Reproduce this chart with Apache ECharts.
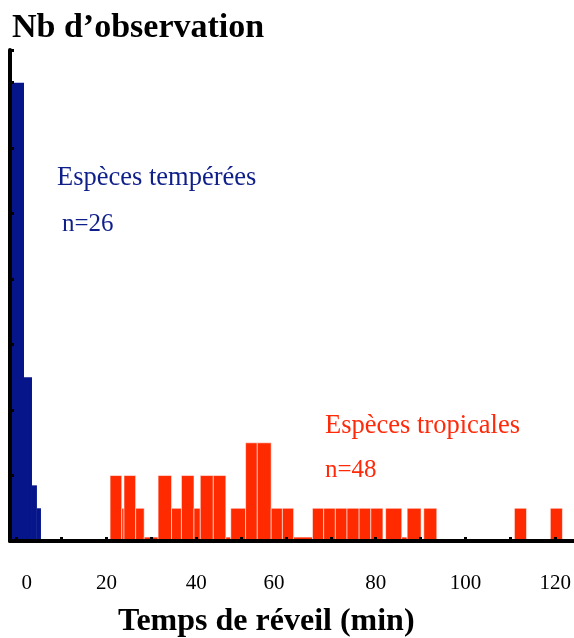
<!DOCTYPE html>
<html>
<head>
<meta charset="utf-8">
<script src="https://cdn.jsdelivr.net/npm/echarts@6/dist/echarts.min.js"></script>
<style>html,body{margin:0;padding:0;background:#fff}#c{width:574px;height:638px}</style>
</head>
<body>
<div id="c"></div>
<script>
// Temperate species (blue) bins: start (min), end (min), count
const blueStart = [-1.5, 1.62, 3.4, 4.5];
const blueEnd   = [1.62, 3.4, 4.5, 5.4];
const blueCount = [14, 5, 1.7, 1];

// Tropical species (red) bins: start (min), end (min), count
const redStart = [20.8, 23.4, 23.9, 26.5, 28.4, 31.5, 34.5, 36.7, 39.5, 40.9, 43.8, 46.6, 47.7, 51.0, 53.6, 56.7, 59.2, 61.7, 65.9, 68.4, 71.0, 73.6, 76.3, 78.9, 82.2, 85.8, 87.0, 90.7, 110.9, 118.9];
const redEnd   = [23.4, 23.9, 26.5, 28.4, 31.5, 34.5, 36.7, 39.5, 40.9, 43.8, 46.6, 47.7, 51.0, 53.6, 56.7, 59.2, 61.7, 65.9, 68.4, 71.0, 73.6, 76.3, 78.9, 81.6, 85.8, 87.0, 90.1, 93.6, 113.6, 121.6];
const redCount = [2, 1, 2, 1, 0.12, 2, 1, 2, 1, 2, 2, 0.12, 1, 3, 3, 1, 1, 0.12, 1, 1, 1, 1, 1, 1, 1, 0.12, 1, 1, 1, 1];

const xTickValues  = [0, 10, 20, 30, 40, 50, 60, 70, 80, 90, 100, 110, 120];
const xLabelValues = [0, 20, 40, 60, 80, 100, 120];

const blueData = blueStart.map((s, i) => [s, blueEnd[i], blueCount[i]]);
const redData  = redStart.map((s, i) => [s, redEnd[i], redCount[i]]);

function rectItem(stroke) {
  return function (params, api) {
    const p0 = api.coord([api.value(0), api.value(2)]);
    const p1 = api.coord([api.value(1), 0]);
    return {
      type: 'rect',
      shape: { x: p0[0], y: p0[1], width: p1[0] - p0[0], height: p1[1] - p0[1] },
      style: { fill: api.visual('color'), stroke: stroke, lineWidth: stroke ? 1 : 0 }
    };
  };
}

const serif = '"Liberation Serif", "Times New Roman", serif';
const chart = echarts.init(document.getElementById('c'), null, { renderer: 'canvas' });
chart.setOption({
  animation: false,
  backgroundColor: '#fff',
  grid: { left: 10, right: 0, top: 50, bottom: 97, containLabel: false },
  title: [
    { text: 'Nb d\u2019observation', left: 12, top: 11, padding: 0,
      textStyle: { fontFamily: serif, fontWeight: 'bold', fontSize: 34, color: '#000' } },
    { text: 'Temps de r\u00e9veil (min)', left: 118, top: 606, padding: 0,
      textStyle: { fontFamily: serif, fontWeight: 'bold', fontSize: 32, color: '#000' } },
    { text: 'Esp\u00e8ces temp\u00e9r\u00e9es', left: 57, top: 165, padding: 0,
      textStyle: { fontFamily: serif, fontWeight: 'normal', fontSize: 26.5, color: '#0f1f8a' } },
    { text: 'n=26', left: 62, top: 212, padding: 0,
      textStyle: { fontFamily: serif, fontWeight: 'normal', fontSize: 25, color: '#0f1f8a' } },
    { text: 'Esp\u00e8ces tropicales', left: 325, top: 413, padding: 0,
      textStyle: { fontFamily: serif, fontWeight: 'normal', fontSize: 26.5, color: '#ff2a0a' } },
    { text: 'n=48', left: 325, top: 458, padding: 0,
      textStyle: { fontFamily: serif, fontWeight: 'normal', fontSize: 25, color: '#ff2a0a' } }
  ],
  xAxis: {
    type: 'value', min: -1.5, max: 124, z: 10,
    axisLine: { show: true, onZero: false, lineStyle: { color: '#000', width: 4 } },
    axisTick: { show: true, inside: true, length: 4, customValues: xTickValues, lineStyle: { color: '#000', width: 3 } },
    axisLabel: {
      show: true, customValues: xLabelValues, margin: 32, fontFamily: serif, fontSize: 21, color: '#000',
      formatter: function (v) {
        if (v === 0) return '{r|' + v + '}';
        if (v === 60) return '{l|' + v + '}';
        return String(v);
      },
      rich: {
        r: { fontFamily: serif, fontSize: 21, color: '#000', padding: [0, 0, 0, 20] },
        l: { fontFamily: serif, fontSize: 21, color: '#000', padding: [0, 24, 0, 0] }
      }
    },
    splitLine: { show: false }
  },
  yAxis: {
    type: 'value', min: 0, max: 15, interval: 2, z: 10,
    axisLine: { show: true, onZero: false, lineStyle: { color: '#000', width: 4 } },
    axisTick: { show: true, inside: true, length: 4, lineStyle: { color: '#000', width: 3 } },
    axisLabel: { show: false },
    splitLine: { show: false }
  },
  series: [
    { type: 'custom', name: 'Esp\u00e8ces temp\u00e9r\u00e9es', renderItem: rectItem(null), data: blueData,
      itemStyle: { color: '#06168a' }, encode: { x: [0, 1], y: 2 } },
    { type: 'custom', name: 'Esp\u00e8ces tropicales', renderItem: rectItem('rgba(255,255,255,0.55)'), data: redData,
      itemStyle: { color: '#ff2a00' }, encode: { x: [0, 1], y: 2 } }
  ]
});
</script>
</body>
</html>
